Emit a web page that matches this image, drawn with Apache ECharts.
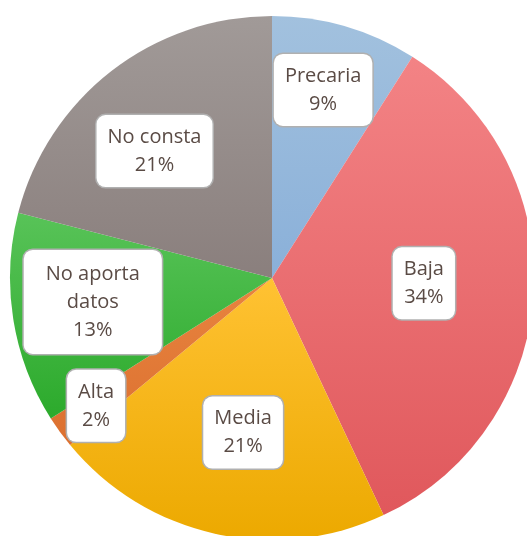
<!DOCTYPE html>
<html>
<head>
<meta charset="utf-8">
<script src="https://cdn.jsdelivr.net/npm/echarts@6/dist/echarts.min.js"></script>
<style>
  html, body { margin: 0; padding: 0; background: #fff; }
  #chart { width: 527px; height: 536px; }
</style>
</head>
<body>
<div id="chart"></div>
<script>
// categories and values (percent), clockwise from 12 o'clock
var categories = ['Precaria', 'Baja', 'Media', 'Alta', 'No aporta\ndatos', 'No consta'];
var values = [9, 34, 21, 2, 13, 21];

// gradient top / bottom colours per slice
var topColors = ['#a2c1de', '#f38385', '#ffc233', '#e8843f', '#58c358', '#a19a98'];
var bottomColors = ['#8ab0d9', '#e0585c', '#eca900', '#dc7030', '#2caa2c', '#8a7f7d'];

// label placement: fraction of radius, angle tweak in degrees
var labelFrac = [0.744, 0.58, 0.60, 0.83, 0.69, 0.66];
var labelTurn = [-1, -1.6, -2, 0, 1.4, -5];

var cx = 272, cy = 278, R = 262;

var total = values.reduce(function (a, b) { return a + b; }, 0);
var midAngles = [];
var acc = 0;
values.forEach(function (v) {
    midAngles.push((acc + v / 2) / total * 360);
    acc += v;
});

var myChart = echarts.init(document.getElementById('chart'));

myChart.setOption({
    animation: false,
    series: [
        {
            type: 'pie',
            center: [cx, cy],
            radius: R,
            startAngle: 90,
            clockwise: true,
            avoidLabelOverlap: false,
            data: categories.map(function (name, i) {
                var item = {
                    name: name,
                    value: values[i],
                    itemStyle: {
                        color: new echarts.graphic.LinearGradient(0, 0, 0, 1, [
                            { offset: 0, color: topColors[i] },
                            { offset: 1, color: bottomColors[i] }
                        ])
                    }
                };
                // the three-line label box is wider in the original
                if (name.indexOf('\n') >= 0) {
                    item.label = { padding: [10, 22, 10, 22] };
                }
                return item;
            }),
            itemStyle: { borderWidth: 0 },
            label: {
                show: true,
                position: 'inside',
                formatter: '{b}\n{c}%',
                fontFamily: 'Open Sans',
                fontSize: 20,
                lineHeight: 28,
                color: '#5a4b45',
                align: 'center',
                backgroundColor: '#fff',
                borderColor: '#b0b0b0',
                borderWidth: 1.5,
                borderRadius: 9,
                padding: [8, 11, 8, 11]
            },
            labelLine: { show: false },
            labelLayout: function (params) {
                var i = params.dataIndex;
                var a = (midAngles[i] + labelTurn[i]) * Math.PI / 180;
                var d = labelFrac[i] * R;
                return {
                    x: cx + d * Math.sin(a),
                    y: cy - d * Math.cos(a),
                    align: 'center',
                    verticalAlign: 'middle'
                };
            },
            emphasis: { disabled: true }
        }
    ]
});
</script>
</body>
</html>
